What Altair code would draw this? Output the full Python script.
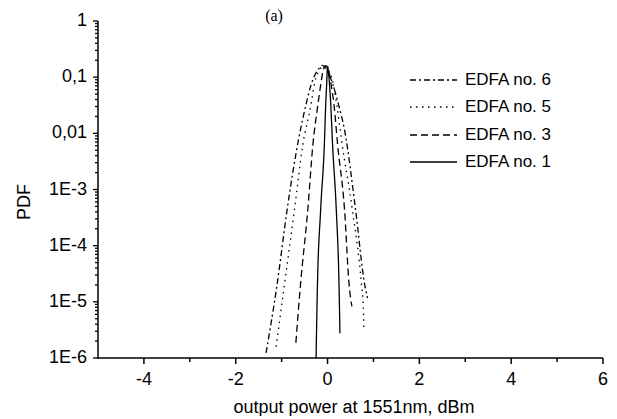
import altair as alt
import pandas as pd

series_names = ["EDFA no. 6", "EDFA no. 5", "EDFA no. 3", "EDFA no. 1"]

# values (x in dBm, PDF)
edfa6_x = [-1.34, -1.10, -0.88, -0.63, -0.47, -0.36, -0.18, -0.11, -0.04, 0.12, 0.24, 0.37, 0.61, 0.81, 0.87]
edfa6_pdf = [1.23e-6, 2.0e-5, 4.4e-4, 7.9e-3, 0.0324, 0.0724, 0.145, 0.162, 0.145, 0.0724, 0.0324, 0.0115, 4.4e-4, 2.0e-5, 1.17e-5]

edfa5_x = [-1.12, -0.94, -0.72, -0.54, -0.36, -0.29, -0.15, -0.08, -0.01, 0.13, 0.20, 0.32, 0.54, 0.74, 0.78, 0.79]
edfa5_pdf = [1.58e-6, 2.0e-5, 4.4e-4, 6.2e-3, 0.0324, 0.0724, 0.145, 0.160, 0.145, 0.0724, 0.0324, 6.2e-3, 4.4e-4, 2.0e-5, 7.9e-6, 3.4e-6]

edfa3_x = [-0.69, -0.59, -0.43, -0.32, -0.21, -0.15, -0.09, -0.05, 0.00, 0.08, 0.14, 0.22, 0.37, 0.47, 0.53]
edfa3_pdf = [1.86e-6, 2.0e-5, 4.4e-4, 6.2e-3, 0.0324, 0.0724, 0.138, 0.158, 0.150, 0.0724, 0.0324, 6.2e-3, 4.4e-4, 2.0e-5, 8.3e-6]

edfa1_x = [-0.25, -0.22, -0.15, -0.07, -0.04, -0.02, 0.00, 0.03, 0.07, 0.11, 0.19, 0.25, 0.27]
edfa1_pdf = [1.0e-6, 2.0e-5, 4.4e-4, 6.2e-3, 0.0324, 0.0724, 0.155, 0.10, 0.0324, 6.2e-3, 4.4e-4, 2.0e-5, 2.75e-6]

dash_patterns = [[6, 3, 2, 3], [1.5, 4.5], [7, 4], [1, 0]]

y_major = [1e-6, 1e-5, 1e-4, 1e-3, 1e-2, 1e-1, 1]
y_major_labels = ["1E-6", "1E-5", "1E-4", "1E-3", "0,01", "0,1", "1"]
y_minor = [k * 10.0 ** e for e in range(-6, 0) for k in range(2, 10)]
x_major = [-4, -2, 0, 2, 4, 6]
x_major_labels = ["-4", "-2", "0", "2", "4", "6"]
x_minor = [-3, -1, 1, 3, 5]

x_title = "output power at 1551nm, dBm"
y_title = "PDF"
panel_title = "(a)"

rows = []
for name, xs, ps in zip(series_names,
                        [edfa6_x, edfa5_x, edfa3_x, edfa1_x],
                        [edfa6_pdf, edfa5_pdf, edfa3_pdf, edfa1_pdf]):
    for i, (xv, pv) in enumerate(zip(xs, ps)):
        rows.append({"series": name, "x": xv, "pdf": pv, "i": i})
df = pd.DataFrame(rows)

FONT = "Liberation Sans"
PLOT_W = 505
PLOT_H = 337
x_scale = alt.Scale(domain=[-5, 6], nice=False, zero=False)
y_scale = alt.Scale(type="log", domain=[1e-6, 1], nice=False)

lines = alt.Chart(df).mark_line(color="black", strokeWidth=1.3, interpolate="monotone").encode(
    x=alt.X("x:Q", scale=x_scale, axis=None),
    y=alt.Y("pdf:Q", scale=y_scale, axis=None),
    strokeDash=alt.StrokeDash("series:N",
                              scale=alt.Scale(domain=series_names, range=dash_patterns),
                              legend=None),
    detail="series:N",
    order="i:Q",
)

# tick marks drawn through the scales
def x_ticks_layer(vals, length):
    return alt.Chart(pd.DataFrame({"xt": vals})).mark_rule(color="black", strokeWidth=1.5).encode(
        x=alt.X("xt:Q", scale=x_scale, axis=None),
        y=alt.value(PLOT_H), y2=alt.value(PLOT_H + length))

def y_ticks_layer(vals, length):
    return alt.Chart(pd.DataFrame({"yt": vals})).mark_rule(color="black", strokeWidth=1.3).encode(
        y=alt.Y("yt:Q", scale=y_scale, axis=None),
        x=alt.value(0), x2=alt.value(-length))

tick_layers = [x_ticks_layer(x_major, 6), x_ticks_layer(x_minor, 4),
               y_ticks_layer(y_major, 5), y_ticks_layer(y_minor, 3)]

one = pd.DataFrame({"k": [0]})
y_domain = alt.Chart(one).mark_rule(color="black", strokeWidth=1.5).encode(
    x=alt.value(0), y=alt.value(0), y2=alt.value(PLOT_H + 0.75))
x_domain = alt.Chart(one).mark_rule(color="black", strokeWidth=1.5).encode(
    x=alt.value(-0.75), x2=alt.value(PLOT_W), y=alt.value(PLOT_H))

x_labels = alt.Chart(pd.DataFrame({"v": x_major, "t": x_major_labels})).mark_text(
    align="center", baseline="middle", font=FONT, fontSize=18, color="black"
).encode(x=alt.X("v:Q", scale=x_scale, axis=None), y=alt.value(PLOT_H + 22), text="t:N")

y_labels = alt.Chart(pd.DataFrame({"w": y_major, "t": y_major_labels})).mark_text(
    align="right", baseline="middle", font=FONT, fontSize=18, color="black"
).encode(y=alt.Y("w:Q", scale=y_scale, axis=None), x=alt.value(-11), text="t:N")

x_title_layer = alt.Chart(pd.DataFrame({"t": [x_title]})).mark_text(
    align="center", baseline="middle", font=FONT, fontSize=18, color="black"
).encode(x=alt.value(256), y=alt.value(PLOT_H + 50), text="t:N")

y_title_layer = alt.Chart(pd.DataFrame({"t": [y_title]})).mark_text(
    align="center", baseline="middle", font=FONT, fontSize=18, color="black", angle=270
).encode(x=alt.value(-73), y=alt.value(181), text="t:N")

panel_layer = alt.Chart(pd.DataFrame({"t": [panel_title]})).mark_text(
    align="center", baseline="alphabetic", font="Liberation Serif", fontSize=16, color="black"
).encode(x=alt.value(176), y=alt.value(0), text="t:N")

legend_layers = []
row_y = [59, 86, 114, 141]
for name, dash, yy in zip(series_names, dash_patterns, row_y):
    d = pd.DataFrame({"series": [name]})
    legend_layers.append(
        alt.Chart(d).mark_rule(color="black", strokeWidth=1.3).encode(
            x=alt.value(312), x2=alt.value(359), y=alt.value(yy), strokeDash=alt.value(dash))
    )
    legend_layers.append(
        alt.Chart(d).mark_text(align="left", baseline="middle", font=FONT, fontSize=17, color="black").encode(
            x=alt.value(367), y=alt.value(yy), text="series:N")
    )

chart = alt.layer(
    lines, *legend_layers, panel_layer, y_title_layer,
    y_domain, x_domain, x_labels, y_labels, x_title_layer, *tick_layers
).properties(
    width=PLOT_W, height=PLOT_H,
    autosize="none",
    padding={"left": 90, "top": 13, "right": 6, "bottom": 58},
).configure_view(stroke=None)

chart.save("out.html", embed_options={"renderer": "svg", "actions": False})
